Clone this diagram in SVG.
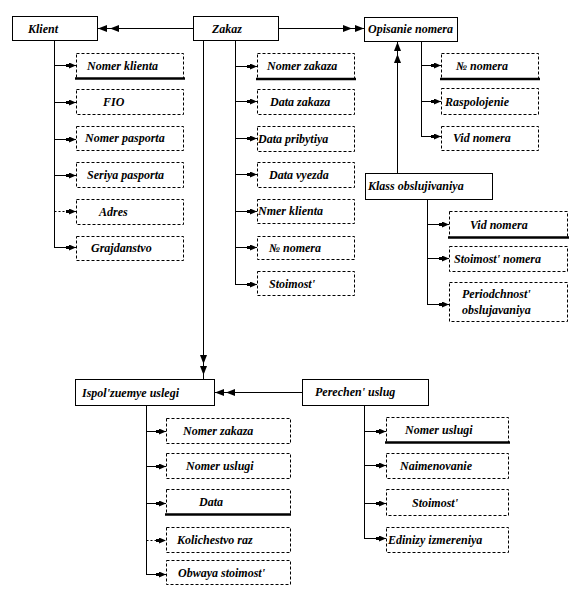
<svg xmlns="http://www.w3.org/2000/svg" xmlns:xlink="http://www.w3.org/1999/xlink" width="576" height="596" viewBox="0 0 576 596">
<defs>
<style>
text{font-family:'Liberation Serif','DejaVu Serif','Times New Roman',serif;font-size:12px;font-weight:bold;font-style:italic;fill:#000}
.ent{fill:#fff;stroke:#000;stroke-width:1}
.att{fill:#fff;stroke:#000;stroke-width:1;stroke-dasharray:3,2}
.key{stroke:#000;stroke-width:2.5}
.ln{stroke:#000;stroke-width:1;fill:none}
.dl{stroke:#000;stroke-width:1;fill:none;stroke-dasharray:2,2}
.ar{marker-end:url(#arr)}
</style>
<marker id="arr" viewBox="0 0 10 6" refX="10" refY="3" markerWidth="10" markerHeight="6" markerUnits="userSpaceOnUse" orient="auto">
<path d="M0,1.5 L3,1.5 L3,0 L10,3 L3,6 L3,4.5 L0,4.5 Z" fill="#000"/>
</marker>
<path id="ah" d="M0,0 L-9,-3.5 L-9,3.5 Z" fill="#000"/>
</defs>
<rect width="576" height="596" fill="#fff"/>

<g id="connectors">
<line class="ln" x1="193" y1="28.5" x2="98" y2="28.5"/>
<use xlink:href="#ah" transform="translate(98,28.5) rotate(180)"/>
<use xlink:href="#ah" transform="translate(110,28.5) rotate(180)"/>
<line class="ln" x1="278" y1="28.5" x2="364" y2="28.5"/>
<use xlink:href="#ah" transform="translate(364,28.5)"/>
<use xlink:href="#ah" transform="translate(352,28.5)"/>
<line class="ln" x1="203.5" y1="41" x2="203.5" y2="379"/>
<use xlink:href="#ah" transform="translate(203.5,364) rotate(90)"/>
<use xlink:href="#ah" transform="translate(203.5,375) rotate(90)"/>
<line class="ln" x1="397.5" y1="173" x2="397.5" y2="42"/>
<use xlink:href="#ah" transform="translate(397.5,42) rotate(-90)"/>
<use xlink:href="#ah" transform="translate(397.5,54) rotate(-90)"/>
<line class="ln" x1="302" y1="392.5" x2="215" y2="392.5"/>
<use xlink:href="#ah" transform="translate(215,392.5) rotate(180)"/>
<use xlink:href="#ah" transform="translate(226,392.5) rotate(180)"/>

<line class="ln" x1="54.5" y1="40" x2="54.5" y2="247.5"/>
<line class="ln ar" x1="54.5" y1="65.5" x2="76" y2="65.5"/>
<line class="ln ar" x1="54.5" y1="102.5" x2="76" y2="102.5"/>
<line class="ln ar" x1="54.5" y1="139.5" x2="76" y2="139.5"/>
<line class="ln ar" x1="54.5" y1="175.5" x2="76" y2="175.5"/>
<line class="dl ar" x1="54.5" y1="211.5" x2="76" y2="211.5"/>
<line class="ln ar" x1="54" y1="247.5" x2="76" y2="247.5"/>

<line class="ln" x1="235.5" y1="41" x2="235.5" y2="284.5"/>
<line class="ln ar" x1="235.5" y1="66.5" x2="257" y2="66.5"/>
<line class="ln ar" x1="235.5" y1="101.5" x2="257" y2="101.5"/>
<line class="ln ar" x1="235.5" y1="138.5" x2="257" y2="138.5"/>
<line class="ln ar" x1="235.5" y1="174.5" x2="257" y2="174.5"/>
<line class="ln ar" x1="235.5" y1="211.5" x2="257" y2="211.5"/>
<line class="ln ar" x1="235.5" y1="247.5" x2="257" y2="247.5"/>
<line class="ln ar" x1="235" y1="284.5" x2="257" y2="284.5"/>

<line class="ln" x1="421.5" y1="42" x2="421.5" y2="136.5"/>
<line class="ln ar" x1="421.5" y1="65.5" x2="441" y2="65.5"/>
<line class="ln ar" x1="421.5" y1="101.5" x2="441" y2="101.5"/>
<line class="ln ar" x1="421" y1="136.5" x2="441" y2="136.5"/>

<line class="ln" x1="427.5" y1="199" x2="427.5" y2="304.5"/>
<line class="ln ar" x1="427.5" y1="224.5" x2="449" y2="224.5"/>
<line class="ln ar" x1="427.5" y1="258.5" x2="449" y2="258.5"/>
<line class="ln ar" x1="427" y1="304.5" x2="449" y2="304.5"/>

<line class="ln" x1="146.5" y1="406" x2="146.5" y2="574.5"/>
<line class="ln ar" x1="146.5" y1="431.5" x2="166" y2="431.5"/>
<line class="ln ar" x1="146.5" y1="466.5" x2="166" y2="466.5"/>
<line class="ln ar" x1="146.5" y1="503.5" x2="166" y2="503.5"/>
<line class="dl ar" x1="146.5" y1="540.5" x2="166" y2="540.5"/>
<line class="ln ar" x1="146" y1="574.5" x2="166" y2="574.5"/>

<line class="ln" x1="364.5" y1="405" x2="364.5" y2="538.5"/>
<line class="ln ar" x1="364.5" y1="431.5" x2="386" y2="431.5"/>
<line class="ln ar" x1="364.5" y1="465.5" x2="386" y2="465.5"/>
<line class="ln ar" x1="364.5" y1="503.5" x2="386" y2="503.5"/>
<line class="ln ar" x1="364" y1="538.5" x2="386" y2="538.5"/>
</g>

<g font-family="Liberation Serif, DejaVu Serif, serif">
<g id="klient"><rect class="ent" x="12.5" y="16.5" width="85" height="24"/><text x="28" y="33">Klient</text></g>
<g id="klient-nomer"><rect class="att" x="76.5" y="53.5" width="107" height="25"/><line class="key" x1="75" y1="78.5" x2="185" y2="78.5"/><text x="87" y="70">Nomer klienta</text></g>
<g id="klient-fio"><rect class="att" x="76.5" y="89.5" width="107" height="25"/><text x="103" y="106">FIO</text></g>
<g id="klient-pasport"><rect class="att" x="76.5" y="126.5" width="107" height="24"/><text x="85" y="142">Nomer pasporta</text></g>
<g id="klient-seriya"><rect class="att" x="76.5" y="162.5" width="107" height="25"/><text x="87" y="179">Seriya pasporta</text></g>
<g id="klient-adres"><rect class="att" x="76.5" y="199.5" width="107" height="25"/><text x="99" y="216">Adres</text></g>
<g id="klient-grajd"><rect class="att" x="76.5" y="236.5" width="107" height="24"/><text x="91" y="252">Grajdanstvo</text></g>

<g id="zakaz"><rect class="ent" x="193.5" y="16.5" width="85" height="24"/><text x="212" y="33">Zakaz</text></g>
<g id="zakaz-nomer"><rect class="att" x="257.5" y="53.5" width="97" height="25"/><line class="key" x1="256" y1="79" x2="356" y2="79"/><text x="267" y="70">Nomer zakaza</text></g>
<g id="zakaz-data"><rect class="att" x="257.5" y="89.5" width="97" height="25"/><text x="270" y="106">Data zakaza</text></g>
<g id="zakaz-pribytiya"><rect class="att" x="257.5" y="126.5" width="97" height="25"/><text x="258" y="143">Data pribytiya</text></g>
<g id="zakaz-vyezda"><rect class="att" x="257.5" y="162.5" width="97" height="25"/><text x="269" y="179">Data vyezda</text></g>
<g id="zakaz-klient"><rect class="att" x="257.5" y="199.5" width="97" height="24"/><text x="258" y="215">Nmer klienta</text></g>
<g id="zakaz-nomera"><rect class="att" x="257.5" y="236.5" width="97" height="23"/><text x="269" y="252">№ nomera</text></g>
<g id="zakaz-stoimost"><rect class="att" x="257.5" y="271.5" width="97" height="24"/><text x="269" y="288">Stoimost'</text></g>

<g id="opisanie"><rect class="ent" x="364.5" y="17.5" width="93" height="24"/><text x="368" y="33">Opisanie nomera</text></g>
<g id="opisanie-nomer"><rect class="att" x="441.5" y="53.5" width="97" height="25"/><line class="key" x1="440" y1="79" x2="540" y2="79"/><text x="456" y="70">№ nomera</text></g>
<g id="opisanie-rasp"><rect class="att" x="441.5" y="88.5" width="97" height="26"/><text x="445" y="106">Raspolojenie</text></g>
<g id="opisanie-vid"><rect class="att" x="441.5" y="126.5" width="97" height="24"/><text x="453" y="142">Vid nomera</text></g>

<g id="klass"><rect class="ent" x="365.5" y="173.5" width="127" height="26"/><text x="368" y="190">Klass obslujivaniya</text></g>
<g id="klass-vid"><rect class="att" x="449.5" y="211.5" width="118" height="26"/><line class="key" x1="448" y1="237.5" x2="569" y2="237.5"/><text x="470" y="229">Vid nomera</text></g>
<g id="klass-stoimost"><rect class="att" x="449.5" y="246.5" width="118" height="25"/><text x="454" y="263">Stoimost' nomera</text></g>
<g id="klass-period"><rect class="att" x="449.5" y="282.5" width="118" height="39"/><text x="462" y="298">Periodchnost'</text><text x="462" y="314">obslujavaniya</text></g>

<g id="ispol"><rect class="ent" x="75.5" y="379.5" width="139" height="26"/><text x="82" y="397">Ispol'zuemye uslegi</text></g>
<g id="ispol-zakaz"><rect class="att" x="166.5" y="418.5" width="124" height="25"/><text x="183" y="435">Nomer zakaza</text></g>
<g id="ispol-usl"><rect class="att" x="166.5" y="453.5" width="124" height="25"/><text x="186" y="470">Nomer uslugi</text></g>
<g id="ispol-data"><rect class="att" x="166.5" y="489.5" width="124" height="25"/><line class="key" x1="165" y1="514.5" x2="291" y2="514.5"/><text x="199" y="506">Data</text></g>
<g id="ispol-kol"><rect class="att" x="166.5" y="527.5" width="124" height="25"/><text x="177" y="544">Kolichestvo raz</text></g>
<g id="ispol-obw"><rect class="att" x="166.5" y="560.5" width="124" height="24"/><text x="178" y="577">Obwaya stoimost'</text></g>

<g id="perechen"><rect class="ent" x="302.5" y="379.5" width="126" height="26"/><text x="315" y="396">Perechen' uslug</text></g>
<g id="perechen-nomer"><rect class="att" x="386.5" y="417.5" width="122" height="25"/><line class="key" x1="385" y1="442.5" x2="510" y2="442.5"/><text x="405" y="434">Nomer uslugi</text></g>
<g id="perechen-naim"><rect class="att" x="386.5" y="453.5" width="122" height="25"/><text x="400" y="470">Naimenovanie</text></g>
<g id="perechen-stoim"><rect class="att" x="386.5" y="489.5" width="122" height="26"/><text x="412" y="507">Stoimost'</text></g>
<g id="perechen-edin"><rect class="att" x="386.5" y="527.5" width="122" height="25"/><text x="388" y="544">Edinizy izmereniya</text></g>
</g>
</svg>
